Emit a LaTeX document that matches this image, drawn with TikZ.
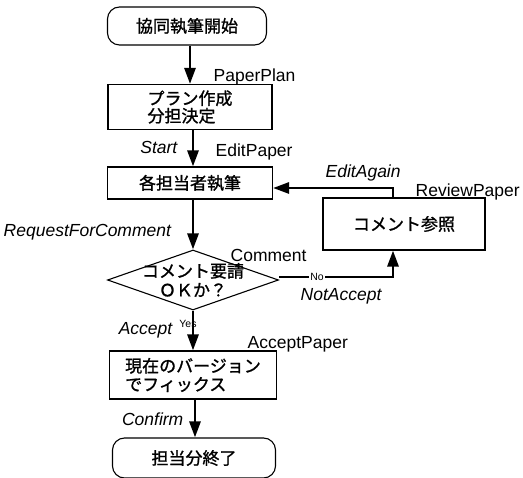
\documentclass[tikz,border=0pt]{standalone}
\usepackage{fontspec}
\setmainfont{Liberation Sans}
\newfontfamily\jp[FakeBold=1.2]{Noto Sans CJK JP}
\usetikzlibrary{shapes.geometric,arrows.meta}

\tikzset{
  box/.style={draw, line width=1.1pt, inner sep=0pt, align=left,
    font=\jp\fontsize{17}{17.5}\selectfont},
  termbox/.style={box, rounded corners=12pt},
  flow/.style={line width=2.8pt, -{Triangle[width=11pt,length=16pt]}},
  tag/.style={inner sep=0.5pt, font=\fontsize{17.5}{19}\selectfont},
  act/.style={tag, font=\fontsize{17.5}{19}\selectfont\itshape},
  tiny/.style={inner sep=1pt, font=\fontsize{10.5}{11}\selectfont}
}

\begin{document}
\begin{tikzpicture}[x=1pt,y=1pt,yscale=-1,xscale=1]
    \useasboundingbox (0,0) rectangle (523,478);

    % Boxes
    \node [termbox, minimum width=159, minimum height=38] (start) at (187,26) {協同執筆開始};
    \node [box, minimum width=164, minimum height=45] (plan) at (190,107) {プラン作成\\分担決定};
    \node [box, minimum width=165, minimum height=32] (edit) at (190,183) {各担当者執筆};
    \node [draw, line width=1.1pt, shape=diamond, inner sep=0pt, minimum width=171, minimum height=60] (decide) at (193,280) {};
    \node [box, draw=none, align=center, font=\jp\fontsize{17}{19}\selectfont] (decidetext) at (decide.center) {コメント要請\\ＯＫか？};
    \node [box, minimum width=162, minimum height=52] (review) at (404,224) {コメント参照};
    \node [box, minimum width=167, minimum height=48, font=\jp\fontsize{17}{18.5}\selectfont] (accept) at (193,375) {現在のバージョン\\でフィックス};
    \node [termbox, minimum width=163, minimum height=40] (finish) at (194,458) {担当分終了};

    % Turning points
    \coordinate (noturn) at (393,277);
    \coordinate (againturn) at (393,188);

    % Connectors
    \draw [flow] (plan.north |- start.south) -- (plan.north);
    \draw [flow] (193,0 |- plan.south) -- (193,0 |- edit.north);
    \draw [flow] (decide.north |- edit.south) -- (decide.north);
    \draw [flow] (decide.south) -- (accept.north);
    \draw [flow] (195,0 |- accept.south) -- (195,0 |- finish.north);
    \draw [flow] (decide.east |- noturn) -- (noturn) -- (noturn |- review.south);
    \draw [flow] (againturn |- review.north) -- (againturn) -- (againturn -| edit.east);

    % Text Node
    \node [tag, anchor=west] (lplan) at (213,77) {PaperPlan};
    \node [act, anchor=east] (lstart) at (178,147) {Start};
    \node [tag, anchor=west] (ledit) at (215,152) {EditPaper};
    \node [act, anchor=west] (lagain) at (325,173) {EditAgain};
    \node [tag, anchor=west] (lreview) at (415,192) {ReviewPaper};
    \node [act, anchor=west] (lrequest) at (3,232) {RequestForComment};
    \node [tag, anchor=west] (lcomment) at (230,255) {Comment};
    \node [tiny, fill=white] (lno) at (317,277) {No};
    \node [act, anchor=west] (lnot) at (300,296) {NotAccept};
    \node [act, anchor=east] (laccept) at (173,330) {Accept};
    \node [tiny] (lyes) at (188,324) {Yes};
    \node [tag, anchor=west] (lapaper) at (247,344) {AcceptPaper};
    \node [act, anchor=east] (lconfirm) at (184,419) {Confirm};

\end{tikzpicture}
\end{document}
